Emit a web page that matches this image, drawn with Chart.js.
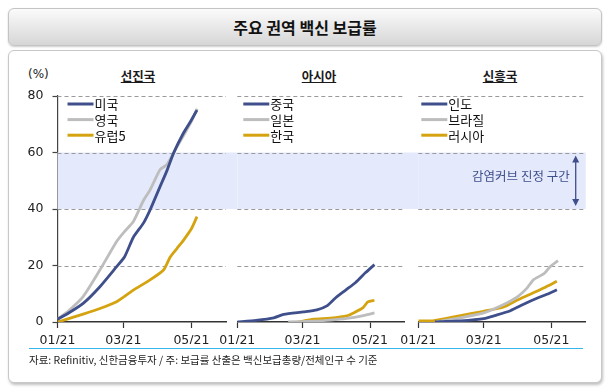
<!DOCTYPE html>
<html>
<head>
<meta charset="utf-8">
<script src="https://cdn.jsdelivr.net/npm/chart.js@4"></script>
<style>
  body { margin: 0; width: 610px; height: 389px; background: #fff; position: relative; overflow: hidden;
         font-family: 'Noto Sans CJK KR', 'Noto Sans', sans-serif; color: #1a1a1a; }
  #titlebox { position: absolute; left: 8px; top: 8px; width: 594px; height: 38px; box-sizing: border-box;
              border: 1px solid #c4c4c4; border-radius: 6px;
              background: linear-gradient(#fbfbfb, #d6d6d6);
              box-shadow: 0 1px 2px rgba(0,0,0,0.2);
              text-align: center; font-weight: bold; font-size: 16px; line-height: 36px; color: #111; }
  #main { position: absolute; left: 8px; top: 50px; width: 594px; height: 333px; box-sizing: border-box;
          border: 1px solid #c8c8c8; border-radius: 6px; background: #fff;
          box-shadow: 1px 2px 3px rgba(0,0,0,0.25); }
  canvas { position: absolute; left: 10px; top: 86px; }
  .ptitle { position: absolute; top: 66px; font-weight: bold; font-size: 12.5px; text-decoration: underline;
            transform: translateX(-50%); white-space: nowrap; }
  #unit { position: absolute; left: 28px; top: 67px; font-size: 12px; font-family: 'DejaVu Sans', sans-serif; }
  #fline { position: absolute; left: 29px; top: 348px; width: 554px; border-top: 1.5px solid #35b6ea; }
  #source { position: absolute; left: 29px; top: 352px; font-size: 10.5px; color: #222; white-space: nowrap; }
</style>
</head>
<body>
<div id="titlebox">주요 권역 백신 보급률</div>
<div id="main"></div>
<div id="unit">(%)</div>
<div class="ptitle" style="left:138px">선진국</div>
<div class="ptitle" style="left:319px">아시아</div>
<div class="ptitle" style="left:500px">신흥국</div>
<canvas id="c1" width="590" height="258"></canvas>
<canvas id="c2" width="590" height="258"></canvas>
<canvas id="c3" width="590" height="258"></canvas>
<div id="fline"></div>
<div id="source">자료: Refinitiv, 신한금융투자 / 주: 보급률 산출은 백신보급총량/전체인구 수 기준</div>
<script>
// x = days since 2021-01-01, y = % of population
const tickDays   = [0, 59, 120]
const tickLabels = ['01/21', '03/21', '05/21']
const yTicks     = [0, 20, 40, 60, 80]
const bandRange  = [40, 60]
const bandLabel  = '감염커브 진정 구간'

// 선진국
const usDays  = [0, 10, 23, 38, 53, 60, 68, 77, 83, 92, 98, 104, 113, 120, 125]
const usVals  = [1, 3.2, 6.6, 12.5, 19.6, 23, 30, 35, 39.7, 48, 53.5, 59.8, 67, 71.5, 75]
const ukDays  = [0, 10, 23, 38, 53, 60, 68, 77, 83, 92, 98, 107, 113, 120, 125]
const ukVals  = [1, 4, 9, 18.4, 28.5, 32, 35.6, 43, 46.8, 54, 55.7, 62, 66, 71, 75.5]
const eu5Days = [0, 10, 23, 38, 53, 68, 83, 95, 101, 107, 113, 120, 125]
const eu5Vals = [0, 1.2, 2.8, 4.8, 7.2, 11.3, 14.9, 18.4, 23, 26, 29, 33, 37.3]

// 아시아
const cnDays = [0, 17, 33, 42, 60, 72, 81, 89, 98, 107, 116, 124]
const cnVals = [0, 0.6, 1.5, 2.7, 3.6, 4.3, 5.7, 8.6, 11.3, 14, 17.5, 20.3]
const jpDays = [46, 69, 84, 99, 114, 124]
const jpVals = [0, 0.3, 0.7, 1.3, 2.3, 3.2]
const krDays = [55, 69, 84, 99, 106, 114, 118, 124]
const krVals = [0, 1, 1.4, 2.2, 3.4, 5.2, 7.1, 7.7]

// 신흥국
const inDays = [15, 20, 38, 59, 71, 83, 95, 107, 116, 125]
const inVals = [0, 0.1, 0.4, 1.2, 2.5, 4, 6.3, 8.4, 9.8, 11.4]
const brDays = [16, 38, 59, 77, 89, 98, 104, 113, 119, 126]
const brVals = [0, 1.5, 3.2, 6.2, 8.8, 12, 15, 17, 19.6, 21.7]
const ruDays = [0, 13, 38, 59, 77, 89, 101, 113, 125]
const ruVals = [0.4, 0.4, 2.3, 3.8, 5.3, 7.7, 9.8, 12, 14.4]

const NAVY = '#3e4f8b', GRAY = '#bdbdbd', GOLD = '#d5a30f'
const tickFont = { family: "'DejaVu Sans', sans-serif", size: 12.5 }

const pts = (days, vals) => days.map((d, i) => ({ x: d, y: vals[i] }))
const ds = (label, days, vals, color) => ({
  label: label, data: pts(days, vals), borderColor: color, backgroundColor: color,
  borderWidth: 2.8, pointRadius: 0, tension: 0.2, fill: false
})

// band, dashed grid, legend and arrow, placed with the chart's own scales
const decor = {
  id: 'decor',
  beforeDatasetsDraw(chart, args, opts) {
    const { ctx, chartArea } = chart
    const y = chart.scales.y
    const top = y.getPixelForValue(bandRange[1]), bot = y.getPixelForValue(bandRange[0])
    ctx.save()
    ctx.fillStyle = '#e4e9fb'
    ctx.fillRect(chartArea.left, top, chartArea.right - chartArea.left + opts.extend, bot - top)
    ctx.strokeStyle = '#9a9a9a'
    ctx.lineWidth = 1.2
    ctx.setLineDash([4, 3])
    yTicks.filter(v => v > 0).forEach(v => {
      const py = Math.round(y.getPixelForValue(v)) + 0.5
      ctx.beginPath(); ctx.moveTo(chartArea.left, py); ctx.lineTo(chartArea.right, py); ctx.stroke()
    })
    ctx.restore()
  },
  afterDatasetsDraw(chart, args, opts) {
    const { ctx, chartArea } = chart
    ctx.save()
    ctx.font = "13px 'Noto Sans CJK KR'"
    ctx.textBaseline = 'middle'
    chart.data.datasets.forEach((d, i) => {
      const yy = chartArea.top + 8 + i * 15.6
      const x0 = chartArea.left + opts.legendX
      ctx.strokeStyle = d.borderColor
      ctx.lineWidth = 3
      ctx.beginPath(); ctx.moveTo(x0, yy); ctx.lineTo(x0 + 26, yy); ctx.stroke()
      ctx.fillStyle = '#111'
      ctx.fillText(d.label, x0 + 27, yy + 0.5)
    })
    if (opts.arrow) {
      const y = chart.scales.y
      const top = y.getPixelForValue(bandRange[1]) + 3, bot = y.getPixelForValue(bandRange[0]) - 3
      const ax = chartArea.right - 10
      ctx.strokeStyle = NAVY; ctx.fillStyle = NAVY; ctx.lineWidth = 1.3
      ctx.beginPath(); ctx.moveTo(ax, top + 4); ctx.lineTo(ax, bot - 4); ctx.stroke()
      ctx.beginPath(); ctx.moveTo(ax, top); ctx.lineTo(ax - 3.5, top + 7); ctx.lineTo(ax + 3.5, top + 7); ctx.fill()
      ctx.beginPath(); ctx.moveTo(ax, bot); ctx.lineTo(ax - 3.5, bot - 7); ctx.lineTo(ax + 3.5, bot - 7); ctx.fill()
      ctx.font = "12.5px 'Noto Sans CJK KR'"
      ctx.textAlign = 'right'
      ctx.fillText(bandLabel, ax - 6, y.getPixelForValue(51.5))
    }
    ctx.restore()
  }
}

const makeChart = (id, datasets, padL, padR, showY, extend, legendX, arrow) => {
  const ctx = document.getElementById(id).getContext('2d')
  return new Chart(ctx, {
    type: 'line',
    data: { datasets: datasets },
    plugins: [decor],
    options: {
      responsive: false,
      animation: false,
      devicePixelRatio: 1,
      layout: { padding: { left: padL, right: padR, top: 10, bottom: 0 } },
      plugins: {
        legend: { display: false },
        tooltip: { enabled: false },
        decor: { extend: extend, legendX: legendX, arrow: arrow }
      },
      scales: {
        x: {
          type: 'linear', min: 0, max: 151,
          afterBuildTicks: s => { s.ticks = tickDays.map(v => ({ value: v })) },
          afterFit: s => { s.height = 22; s.paddingLeft = 0; s.paddingRight = 0 },
          ticks: {
            autoSkip: false, maxRotation: 0, padding: 5, color: '#222', font: tickFont,
            callback: v => tickLabels[tickDays.indexOf(v)]
          },
          grid: { drawOnChartArea: false, drawTicks: true, tickLength: 6, tickColor: '#333', tickWidth: 1.2 },
          border: { display: true, color: '#333', width: 1.5 }
        },
        y: {
          display: showY,
          min: 0, max: 80,
          afterBuildTicks: s => { s.ticks = yTicks.map(v => ({ value: v })) },
          afterFit: s => { s.width = showY ? 47.5 : 0; s.paddingTop = 0; s.paddingBottom = 0 },
          ticks: { padding: 9, color: '#222', font: tickFont },
          grid: { drawOnChartArea: false, drawTicks: true, tickLength: 5, tickColor: '#444', tickWidth: 1.2 },
          border: { display: true, color: '#444', width: 1.2 }
        }
      }
    }
  })
}

makeChart('c1', [
  ds('미국', usDays, usVals, NAVY),
  ds('영국', ukDays, ukVals, GRAY),
  ds('유럽5', eu5Days, eu5Vals, GOLD)
], 0, 374, true, 11, 10, false)

makeChart('c2', [
  ds('중국', cnDays, cnVals, NAVY),
  ds('일본', jpDays, jpVals, GRAY),
  ds('한국', krDays, krVals, GOLD)
], 227.3, 195.7, false, 14, 6, false)

makeChart('c3', [
  ds('인도', inDays, inVals, NAVY),
  ds('브라질', brDays, brVals, GRAY),
  ds('러시아', ruDays, ruVals, GOLD)
], 408.3, 14.3, false, 0, 3, true)
</script>
</body>
</html>
